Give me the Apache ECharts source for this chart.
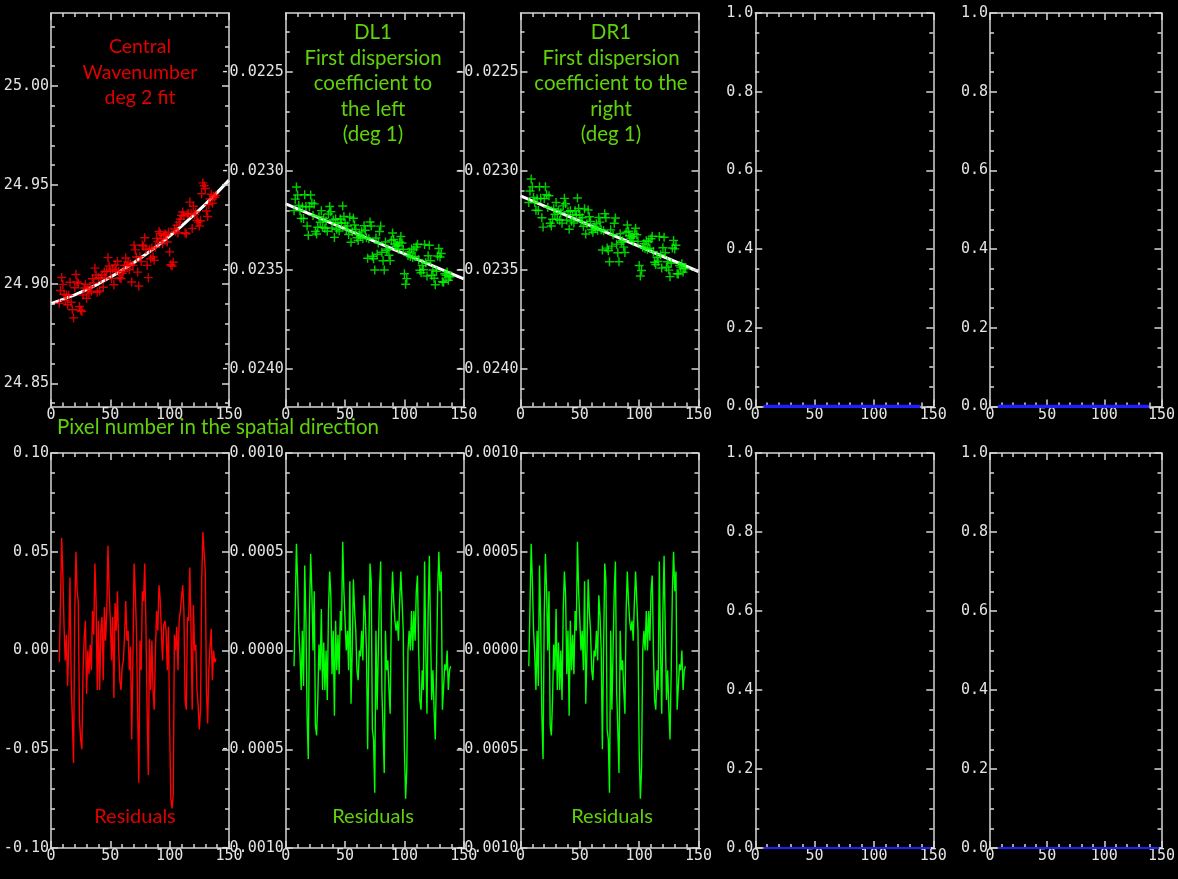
<!DOCTYPE html>
<html>
<head>
<meta charset="utf-8">
<script src="https://cdn.jsdelivr.net/npm/echarts@6/dist/echarts.min.js"></script>
<style>
  html, body { margin: 0; padding: 0; background: #000; }
  #chart { width: 1178px; height: 879px; }
</style>
</head>
<body>
<div id="chart"></div>
<script>
// Pixel number along the spatial direction (shared x for every fitted quantity)
const pixels = [7,8,9,10,11,12,13,14,15,16,17,18,19,20,21,22,23,24,25,26,27,28,29,30,31,32,33,34,35,36,
  37,38,39,40,41,42,43,44,45,46,47,48,49,50,51,52,53,54,55,56,57,58,59,60,61,62,63,64,65,66,
  67,68,69,70,71,72,73,74,75,76,77,78,79,80,81,82,83,84,85,86,87,88,89,90,91,92,93,94,95,96,
  97,98,99,100,101,102,103,104,105,106,107,108,109,110,111,112,113,114,115,116,117,118,119,120,
  121,122,123,124,125,126,127,128,129,130,131,132,133,134,135,136,137,138,139];

// Central wavenumber: measured values, deg-2 fit, residuals
const wavenumberPoints = [
  24.8904,24.8968,24.9034,24.8999,24.8949,24.8917,24.8945,24.8896,24.8944,24.9010,
  24.8909,24.8871,24.8830,24.8982,24.9049,24.9011,24.9004,24.8887,24.8869,24.8862,
  24.8945,24.8981,24.9000,24.8929,24.8976,24.8955,24.8987,24.8964,24.9027,24.9006,
  24.9081,24.9046,24.8959,24.9032,24.8966,24.9029,24.9046,24.8985,24.9062,24.9032,
  24.9065,24.9134,24.9092,24.9065,24.9028,24.9076,24.8997,24.9097,24.9072,24.9116,
  24.9064,24.9033,24.9027,24.9055,24.9064,24.9094,24.9132,24.9096,24.9109,24.9073,
  24.9101,24.9011,24.9095,24.9197,24.9173,24.9137,24.9061,24.8991,24.9139,24.9114,
  24.9198,24.9192,24.9234,24.9175,24.9095,24.9033,24.9176,24.9128,24.9182,24.9137,
  24.9121,24.9186,24.9231,24.9215,24.9266,24.9256,24.9229,24.9204,24.9244,24.9253,
  24.9248,24.9213,24.9262,24.9163,24.9098,24.9092,24.9111,24.9278,24.9267,24.9297,
  24.9258,24.9313,24.9328,24.9347,24.9364,24.9344,24.9259,24.9254,24.9353,24.9355,
  24.9414,24.9356,24.9281,24.9393,24.9352,24.9364,24.9323,24.9313,24.9294,24.9320,
  24.9456,24.9511,24.9497,24.9483,24.9369,24.9341,24.9401,24.9430,24.9454,24.9408,
  24.9444,24.9438,24.9448];
const wavenumberFitX = [0,10,20,30,40,50,60,70,80,90,100,110,120,130,140,150];
const wavenumberFit = [24.8902,24.8923,24.8946,24.8973,24.9002,24.9035,24.9071,24.9109,
  24.9151,24.9195,24.9243,24.9293,24.9347,24.9403,24.9462,24.9525];
const wavenumberResiduals = [
  -0.006,0.025,0.057,0.038,0.012,-0.005,0.008,-0.018,0.005,0.037,
  -0.015,-0.035,-0.057,0.018,0.050,0.030,0.025,-0.035,-0.045,-0.050,
  -0.010,0.007,0.015,-0.022,0.000,-0.012,0.003,-0.010,0.020,0.008,
  0.044,0.025,-0.020,0.015,-0.020,0.010,0.017,-0.015,0.022,0.005,
  0.020,0.053,0.030,0.015,-0.005,0.017,-0.024,0.024,0.010,0.030,
  0.002,-0.015,-0.020,-0.008,-0.005,0.008,0.025,0.005,0.010,-0.010,
  0.002,-0.045,-0.005,0.044,0.030,0.010,-0.030,-0.067,0.005,-0.010,
  0.030,0.025,0.044,0.012,-0.030,-0.063,0.006,-0.020,0.005,-0.020,
  -0.030,0.000,0.020,0.010,0.033,0.026,0.010,-0.005,0.013,0.015,
  0.010,-0.010,0.012,-0.040,-0.075,-0.080,-0.073,0.008,0.000,0.012,
  -0.010,0.015,0.020,0.027,0.033,0.020,-0.025,-0.030,0.017,0.015,
  0.042,0.010,-0.030,0.023,0.000,0.003,-0.020,-0.028,-0.040,-0.030,
  0.035,0.060,0.050,0.040,-0.020,-0.037,-0.010,0.002,0.011,-0.015,
  0.000,-0.006,-0.004];

// DL1: first dispersion coefficient to the left, deg-1 fit, residuals
const dl1Points = [
  -0.023201,-0.023143,-0.023082,-0.023122,-0.023175,-0.023201,-0.023240,-0.023182,-0.023241,-0.023121,
  -0.023180,-0.023278,-0.023325,-0.023181,-0.023122,-0.023162,-0.023225,-0.023167,-0.023306,-0.023319,
  -0.023285,-0.023232,-0.023260,-0.023201,-0.023285,-0.023240,-0.023290,-0.023253,-0.023305,-0.023218,
  -0.023180,-0.023207,-0.023289,-0.023248,-0.023336,-0.023243,-0.023295,-0.023262,-0.023304,-0.023243,
  -0.023265,-0.023178,-0.023231,-0.023263,-0.023296,-0.023278,-0.023321,-0.023233,-0.023360,-0.023308,
  -0.023239,-0.023273,-0.023296,-0.023338,-0.023351,-0.023323,-0.023332,-0.023308,-0.023341,-0.023277,
  -0.023300,-0.023338,-0.023441,-0.023343,-0.023258,-0.023278,-0.023431,-0.023444,-0.023500,-0.023339,
  -0.023421,-0.023364,-0.023306,-0.023279,-0.023411,-0.023454,-0.023500,-0.023359,-0.023401,-0.023394,
  -0.023426,-0.023453,-0.023351,-0.023314,-0.023346,-0.023369,-0.023381,-0.023374,-0.023396,-0.023359,
  -0.023331,-0.023364,-0.023397,-0.023519,-0.023572,-0.023544,-0.023427,-0.023409,-0.023432,-0.023394,
  -0.023437,-0.023399,-0.023432,-0.023384,-0.023371,-0.023449,-0.023502,-0.023514,-0.023477,-0.023499,
  -0.023372,-0.023464,-0.023531,-0.023429,-0.023376,-0.023454,-0.023527,-0.023500,-0.023542,-0.023575,
  -0.023507,-0.023430,-0.023392,-0.023435,-0.023417,-0.023560,-0.023562,-0.023519,-0.023527,-0.023510,
  -0.023552,-0.023535,-0.023533];
const dl1FitX = [0, 150];
const dl1Fit = [-0.023167, -0.023545];
const dl1Residuals = [
  -0.00008,0.00022,0.00054,0.00035,0.00010,-0.00002,-0.00020,0.00010,-0.00018,0.00043,
  0.00015,-0.00033,-0.00055,0.00018,0.00049,0.00030,0.00000,0.00030,-0.00038,-0.00043,
  -0.00025,0.00003,-0.00010,0.00021,-0.00020,0.00004,-0.00020,0.00000,-0.00025,0.00020,
  0.00040,0.00028,-0.00012,0.00010,-0.00033,0.00015,-0.00010,0.00008,-0.00012,0.00020,
  0.00010,0.00055,0.00030,0.00015,0.00000,0.00010,-0.00010,0.00035,-0.00027,0.00000,
  0.00036,0.00020,0.00010,-0.00010,-0.00015,0.00000,-0.00003,0.00010,-0.00005,0.00028,
  0.00018,0.00000,-0.00050,0.00000,0.00044,0.00035,-0.00040,-0.00045,-0.00072,0.00010,
  -0.00030,0.00000,0.00030,0.00045,-0.00020,-0.00040,-0.00062,0.00010,-0.00010,-0.00005,
  -0.00020,-0.00032,0.00020,0.00040,0.00025,0.00015,0.00010,0.00015,0.00005,0.00025,
  0.00040,0.00025,0.00010,-0.00050,-0.00075,-0.00060,0.00000,0.00010,0.00000,0.00020,
  0.00000,0.00020,0.00005,0.00030,0.00038,0.00000,-0.00025,-0.00030,-0.00010,-0.00020,
  0.00045,0.00000,-0.00032,0.00020,0.00048,0.00010,-0.00025,-0.00010,-0.00030,-0.00045,
  -0.00010,0.00030,0.00050,0.00030,0.00040,-0.00030,-0.00030,-0.00007,-0.00010,0.00000,
  -0.00020,-0.00010,-0.00008];

// DR1: first dispersion coefficient to the right, deg-1 fit, residuals
const dr1Points = [
  -0.023160,-0.023102,-0.023041,-0.023081,-0.023134,-0.023160,-0.023199,-0.023141,-0.023200,-0.023080,
  -0.023139,-0.023237,-0.023284,-0.023140,-0.023081,-0.023121,-0.023184,-0.023126,-0.023265,-0.023278,
  -0.023244,-0.023191,-0.023219,-0.023160,-0.023244,-0.023199,-0.023249,-0.023212,-0.023264,-0.023177,
  -0.023139,-0.023166,-0.023248,-0.023207,-0.023295,-0.023202,-0.023254,-0.023221,-0.023263,-0.023202,
  -0.023224,-0.023137,-0.023190,-0.023222,-0.023255,-0.023237,-0.023280,-0.023192,-0.023319,-0.023267,
  -0.023198,-0.023232,-0.023255,-0.023297,-0.023310,-0.023282,-0.023291,-0.023267,-0.023300,-0.023236,
  -0.023259,-0.023297,-0.023400,-0.023302,-0.023217,-0.023237,-0.023390,-0.023403,-0.023459,-0.023298,
  -0.023380,-0.023323,-0.023265,-0.023238,-0.023370,-0.023413,-0.023459,-0.023318,-0.023360,-0.023353,
  -0.023385,-0.023412,-0.023310,-0.023273,-0.023305,-0.023328,-0.023340,-0.023333,-0.023355,-0.023318,
  -0.023290,-0.023323,-0.023356,-0.023478,-0.023531,-0.023503,-0.023386,-0.023368,-0.023391,-0.023353,
  -0.023396,-0.023358,-0.023391,-0.023343,-0.023330,-0.023408,-0.023461,-0.023473,-0.023436,-0.023458,
  -0.023331,-0.023423,-0.023490,-0.023388,-0.023335,-0.023413,-0.023486,-0.023459,-0.023501,-0.023534,
  -0.023466,-0.023389,-0.023351,-0.023394,-0.023376,-0.023519,-0.023521,-0.023478,-0.023486,-0.023469,
  -0.023511,-0.023494,-0.023492];
const dr1FitX = [0, 150];
const dr1Fit = [-0.023126, -0.023508];
const dr1Residuals = [
  -0.00008,0.00022,0.00054,0.00035,0.00010,-0.00002,-0.00020,0.00010,-0.00018,0.00043,
  0.00015,-0.00033,-0.00055,0.00018,0.00049,0.00030,0.00000,0.00030,-0.00038,-0.00043,
  -0.00025,0.00003,-0.00010,0.00021,-0.00020,0.00004,-0.00020,0.00000,-0.00025,0.00020,
  0.00040,0.00028,-0.00012,0.00010,-0.00033,0.00015,-0.00010,0.00008,-0.00012,0.00020,
  0.00010,0.00055,0.00030,0.00015,0.00000,0.00010,-0.00010,0.00035,-0.00027,0.00000,
  0.00036,0.00020,0.00010,-0.00010,-0.00015,0.00000,-0.00003,0.00010,-0.00005,0.00028,
  0.00018,0.00000,-0.00050,0.00000,0.00044,0.00035,-0.00040,-0.00045,-0.00072,0.00010,
  -0.00030,0.00000,0.00030,0.00045,-0.00020,-0.00040,-0.00062,0.00010,-0.00010,-0.00005,
  -0.00020,-0.00032,0.00020,0.00040,0.00025,0.00015,0.00010,0.00015,0.00005,0.00025,
  0.00040,0.00025,0.00010,-0.00050,-0.00075,-0.00060,0.00000,0.00010,0.00000,0.00020,
  0.00000,0.00020,0.00005,0.00030,0.00038,0.00000,-0.00025,-0.00030,-0.00010,-0.00020,
  0.00045,0.00000,-0.00032,0.00020,0.00048,0.00010,-0.00025,-0.00010,-0.00030,-0.00045,
  -0.00010,0.00030,0.00050,0.00030,0.00040,-0.00030,-0.00030,-0.00007,-0.00010,0.00000,
  -0.00020,-0.00010,-0.00008];

// Unused higher-order coefficients (flat at zero)
const higherOrderX = [7, 139];
const higherOrderValues = [0, 0];
const higherOrderResidX = [7, 148];
const higherOrderResidValues = [0, 0];

// Axis tick labels
const pixelTicks = [0, 50, 100, 150];
const wavenumberTicks = [24.85, 24.90, 24.95, 25.00];
const dispersionTicks = [-0.0240, -0.0235, -0.0230, -0.0225];
const unitTicks = [0.0, 0.2, 0.4, 0.6, 0.8, 1.0];
const wavenumberResidTicks = [-0.10, -0.05, 0.00, 0.05, 0.10];
const dispersionResidTicks = [-0.0010, -0.0005, 0.0000, 0.0005, 0.0010];

const RED = '#ff0000';
const GREEN = '#00ff00';
const BLUE = '#2020ff';
const TITLE_GREEN = '#5fd20a';
const TITLE_RED = '#e00000';
const AXIS_COLOR = '#d6d6d6';
const TICK_FONT = { fontFamily: 'DejaVu Sans Mono', fontSize: 15, color: '#e4e4e4' };
const PLUS = 'path://M8.4,0H11.6V8.4H20V11.6H11.6V20H8.4V11.6H0V8.4H8.4Z';

const COL_LEFT = 51, COL_STEP = 234.75, PANEL_W = 178;
const ROW_TOP = [13, 453], ROW_H = [393.5, 395];

// Panel layout: y range, major ticks, minor tick step, label digits
const panels = [
  { row: 0, col: 0, min: 24.8383, max: 25.0368, majors: wavenumberTicks, minor: 0.01, digits: 2 },
  { row: 0, col: 1, min: -0.024189, max: -0.022204, majors: dispersionTicks, minor: 0.0001, digits: 4 },
  { row: 0, col: 2, min: -0.024189, max: -0.022204, majors: dispersionTicks, minor: 0.0001, digits: 4 },
  { row: 0, col: 3, min: 0, max: 1, majors: unitTicks, minor: 0.05, digits: 1 },
  { row: 0, col: 4, min: 0, max: 1, majors: unitTicks, minor: 0.05, digits: 1 },
  { row: 1, col: 0, min: -0.1, max: 0.1, majors: wavenumberResidTicks, minor: 0.01, digits: 2 },
  { row: 1, col: 1, min: -0.001, max: 0.001, majors: dispersionResidTicks, minor: 0.0001, digits: 4 },
  { row: 1, col: 2, min: -0.001, max: 0.001, majors: dispersionResidTicks, minor: 0.0001, digits: 4 },
  { row: 1, col: 3, min: 0, max: 1, majors: unitTicks, minor: 0.05, digits: 1 },
  { row: 1, col: 4, min: 0, max: 1, majors: unitTicks, minor: 0.05, digits: 1 }
];

function minorValues(p) {
  const out = [];
  const k0 = Math.ceil(p.min / p.minor - 1e-9), k1 = Math.floor(p.max / p.minor + 1e-9);
  for (let k = k0; k <= k1; k++) {
    const v = Number((k * p.minor).toFixed(8));
    if (!p.majors.some(m => Math.abs(m - v) < p.minor * 1e-3)) out.push(v);
  }
  return out;
}

const grid = [], xAxis = [], yAxis = [];
const lineStyle = { color: AXIS_COLOR, width: 1.5 };
const panelAxis = []; // [xAxisIndex, yAxisIndex] used by each panel's series

panels.forEach((p, g) => {
  grid.push({
    left: COL_LEFT + p.col * COL_STEP, top: ROW_TOP[p.row],
    width: PANEL_W, height: ROW_H[p.row], containLabel: false
  });
  const xBase = {
    gridIndex: g, type: 'value', min: 0, max: 150, interval: 50, z: 3,
    splitLine: { show: false },
    axisLine: { show: true, onZero: false, lineStyle },
    axisTick: { show: true, inside: true, length: 7, lineStyle },
    minorTick: { show: true, splitNumber: 5, length: 4, lineStyle }
  };
  panelAxis.push([xAxis.length, yAxis.length]);
  xAxis.push(Object.assign({}, xBase, {
    position: 'bottom',
    axisLabel: Object.assign({ margin: 1, customValues: pixelTicks }, TICK_FONT)
  }));
  xAxis.push(Object.assign({}, xBase, { position: 'top', axisLabel: { show: false } }));

  const minors = minorValues(p);
  const yBase = { gridIndex: g, type: 'value', min: p.min, max: p.max, z: 3, splitLine: { show: false } };
  ['left', 'right'].forEach(side => {
    yAxis.push(Object.assign({}, yBase, {
      position: side,
      axisLine: { show: true, onZero: false, lineStyle },
      axisTick: { show: true, inside: true, length: 7, lineStyle, customValues: p.majors },
      axisLabel: side === 'left'
        ? Object.assign({ margin: 2, padding: [0, 0, 5, 0], customValues: p.majors,
            formatter: v => Number(v).toFixed(p.digits) }, TICK_FONT)
        : { show: false }
    }));
    yAxis.push(Object.assign({}, yBase, {
      position: side,
      axisLine: { show: false, onZero: false },
      axisTick: { show: true, inside: true, length: 4, lineStyle, customValues: minors },
      axisLabel: { show: false }
    }));
  });
});

const zip = (xs, ys) => xs.map((x, i) => [x, ys[i]]);

function scatter(g, values, color) {
  return {
    type: 'scatter', xAxisIndex: panelAxis[g][0], yAxisIndex: panelAxis[g][1],
    data: zip(pixels, values), symbol: PLUS, symbolSize: 9,
    itemStyle: { color }, silent: true, z: 2
  };
}
function line(g, xs, ys, color, width, z) {
  return {
    type: 'line', xAxisIndex: panelAxis[g][0], yAxisIndex: panelAxis[g][1],
    data: zip(xs, ys), showSymbol: false, symbol: 'none',
    lineStyle: { color, width }, silent: true, z: z || 2
  };
}

const series = [
  scatter(0, wavenumberPoints, RED),
  line(0, wavenumberFitX, wavenumberFit, '#ffffff', 3),
  scatter(1, dl1Points, GREEN),
  line(1, dl1FitX, dl1Fit, '#ffffff', 3),
  scatter(2, dr1Points, GREEN),
  line(2, dr1FitX, dr1Fit, '#ffffff', 3),
  line(3, higherOrderX, higherOrderValues, BLUE, 3.5, 5),
  line(4, higherOrderX, higherOrderValues, BLUE, 3.5, 5),
  line(5, pixels, wavenumberResiduals, RED, 1.4),
  line(6, pixels, dl1Residuals, GREEN, 1.4),
  line(7, pixels, dr1Residuals, GREEN, 1.4),
  line(8, higherOrderResidX, higherOrderResidValues, BLUE, 1.8, 5),
  line(9, higherOrderResidX, higherOrderResidValues, BLUE, 1.8, 5)
];

function label(text, x, y, color, size) {
  return {
    type: 'text', x, y, silent: true, z: 10,
    style: { text, fill: color, font: size + 'px Lato', align: 'center', verticalAlign: 'top', lineHeight: 25.5 }
  };
}

const graphic = [
  label('Central\nWavenumber\ndeg 2 fit', 140, 34, TITLE_RED, 19.5),
  label('DL1\nFirst dispersion\ncoefficient to\nthe left\n(deg 1)', 373, 20, TITLE_GREEN, 20.5),
  label('DR1\nFirst dispersion\ncoefficient to the\nright\n(deg 1)', 611, 20, TITLE_GREEN, 20.5),
  label('Pixel number in the spatial direction', 218, 415, TITLE_GREEN, 20.5),
  label('Residuals', 135, 804, TITLE_RED, 20),
  label('Residuals', 373, 804, TITLE_GREEN, 20),
  label('Residuals', 612, 804, TITLE_GREEN, 20)
];

const chart = echarts.init(document.getElementById('chart'), null, { renderer: 'canvas' });
chart.setOption({
  backgroundColor: '#000000',
  animation: false,
  grid, xAxis, yAxis, series, graphic
});
</script>
</body>
</html>
